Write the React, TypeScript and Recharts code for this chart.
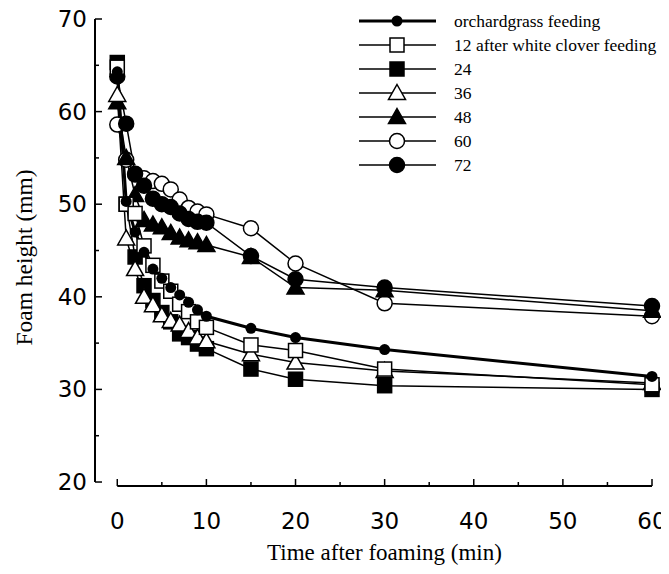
import { LineChart, Line, XAxis, YAxis, ReferenceLine, Legend } from 'recharts';

// minutes after foaming
const times = [0, 1, 2, 3, 4, 5, 6, 7, 8, 9, 10, 15, 20, 30, 60];

// foam height (mm) per group
const orchardgrass = [64.3, 50.3, 47.0, 44.8, 43.0, 42.0, 41.0, 40.2, 39.4, 38.6, 37.9, 36.6, 35.6, 34.3, 31.4];
const h12 = [64.8, 50.0, 49.0, 45.5, 43.4, 41.7, 40.6, 39.2, 38.4, 37.3, 36.7, 34.8, 34.2, 32.2, 30.5];
const h24 = [65.3, 50.0, 44.3, 41.2, 39.6, 38.3, 37.3, 36.0, 35.6, 34.9, 34.4, 32.2, 31.1, 30.4, 30.0];
const h36 = [61.8, 46.3, 43.0, 40.0, 39.1, 38.0, 37.4, 37.0, 36.3, 35.6, 35.2, 33.8, 32.9, 32.0, 30.7];
const h48 = [61.0, 55.0, 51.0, 48.3, 47.8, 47.5, 46.9, 46.4, 46.1, 45.9, 45.6, 44.3, 41.0, 40.7, 38.5];
const h60 = [58.6, 54.8, 53.2, 52.8, 52.5, 52.2, 51.6, 50.5, 49.6, 49.2, 48.9, 47.4, 43.6, 39.3, 37.9];
const h72 = [63.8, 58.7, 53.3, 52.0, 50.6, 50.0, 49.7, 49.0, 48.4, 48.1, 48.0, 44.4, 41.9, 41.0, 39.0];

const xTicks = [0, 5, 10, 15, 20, 25, 30, 35, 40, 45, 50, 55, 60];
const yTicks = [20, 25, 30, 35, 40, 45, 50, 55, 60, 65, 70];

const X_MIN = -2.5;
const Y_MIN = 19.57;

type Shape = 'dot' | 'circle' | 'square' | 'triangle';

interface SeriesDef {
  key: string;
  name: string;
  shape: Shape;
  filled: boolean;
  width: number;
}

const series: SeriesDef[] = [
  { key: 'h60', name: '60', shape: 'circle', filled: false, width: 1.5 },
  { key: 'h48', name: '48', shape: 'triangle', filled: true, width: 1.5 },
  { key: 'h72', name: '72', shape: 'circle', filled: true, width: 1.5 },
  { key: 'h24', name: '24', shape: 'square', filled: true, width: 1.5 },
  { key: 'h36', name: '36', shape: 'triangle', filled: false, width: 1.5 },
  { key: 'h12', name: '12 after white clover feeding', shape: 'square', filled: false, width: 1.5 },
  { key: 'orchard', name: 'orchardgrass feeding', shape: 'dot', filled: true, width: 3 },
];

const legendOrder = ['orchard', 'h12', 'h24', 'h36', 'h48', 'h60', 'h72'];

const data = times.map((t, i) => ({
  t,
  orchard: orchardgrass[i],
  h12: h12[i],
  h24: h24[i],
  h36: h36[i],
  h48: h48[i],
  h60: h60[i],
  h72: h72[i],
}));

function Marker({ cx, cy, shape, filled }: { cx: number; cy: number; shape: Shape; filled: boolean }) {
  const fill = filled ? '#000' : '#fff';
  if (shape === 'dot') return <circle cx={cx} cy={cy} r={5.5} fill="#000" />;
  if (shape === 'circle')
    return <circle cx={cx} cy={cy} r={7.5} fill={fill} stroke="#000" strokeWidth={1.5} />;
  if (shape === 'square')
    return <rect x={cx - 7} y={cy - 7} width={14} height={14} fill={fill} stroke="#000" strokeWidth={1.5} />;
  return (
    <polygon
      points={`${cx},${cy - 8.5} ${cx + 8.5},${cy + 6.5} ${cx - 8.5},${cy + 6.5}`}
      fill={fill}
      stroke="#000"
      strokeWidth={1.5}
    />
  );
}

const makeDot = (s: SeriesDef) => (props: any) => {
  const { cx, cy, index } = props;
  if (cx == null || cy == null) return <g key={`${s.key}-${index}`} />;
  return (
    <g key={`${s.key}-${index}`}>
      <Marker cx={cx} cy={cy} shape={s.shape} filled={s.filled} />
    </g>
  );
};

function XTick(props: { x?: number; y?: number; payload?: { value: number } }) {
  const { x = 0, y = 0, payload } = props;
  if (!payload) return null;
  const major = payload.value % 10 === 0;
  return (
    <g>
      <line x1={x} y1={y} x2={x} y2={y - (major ? 7 : 4)} stroke="#000" strokeWidth={1.5} />
      {major && (
        <text x={x} y={y + 43} textAnchor="middle" fontFamily="DejaVu Sans" fontSize={23} fill="#000">
          {payload.value}
        </text>
      )}
    </g>
  );
}

function YTick(props: { x?: number; y?: number; payload?: { value: number } }) {
  const { x = 0, y = 0, payload } = props;
  if (!payload) return null;
  const major = payload.value % 10 === 0;
  return (
    <g>
      <line x1={x} y1={y} x2={x + (major ? 7 : 4)} y2={y} stroke="#000" strokeWidth={1.5} />
      {major && (
        <text x={x - 8} y={y + 8} textAnchor="end" fontFamily="DejaVu Sans" fontSize={23} fill="#000">
          {payload.value}
        </text>
      )}
    </g>
  );
}

function LegendBox() {
  return (
    <svg width={312} height={180}>
      {legendOrder.map((k, i) => {
        const s = series.find((d) => d.key === k)!;
        const cy = 13 + i * 24;
        return (
          <g key={k}>
            <line x1={4} y1={cy} x2={81} y2={cy} stroke="#000" strokeWidth={s.width} />
            <Marker cx={42} cy={cy} shape={s.shape} filled={s.filled} />
            <text x={99} y={cy + 6} fontFamily="Liberation Serif" fontSize={17.5} fill="#000">
              {s.name}
            </text>
          </g>
        );
      })}
    </svg>
  );
}

export default function App() {
  return (
    <div style={{ position: 'relative', width: 669, height: 574, margin: -8 }}>
      <LineChart width={669} height={574} data={data} margin={{ top: 19, right: 17, bottom: 0, left: 0 }}>
        <XAxis
          dataKey="t"
          type="number"
          domain={[X_MIN, 60]}
          ticks={xTicks}
          interval={0}
          axisLine={false}
          tickLine={false}
          tickSize={0}
          tickMargin={0}
          height={88}
          tick={<XTick />}
          label={{
            content: (p: any) => {
              const vb = p.viewBox || {};
              return (
                <text
                  x={vb.x + vb.width / 2 + 11}
                  y={vb.y + 74}
                  textAnchor="middle"
                  fontFamily="Liberation Serif"
                  fontSize={23}
                  fill="#000"
                >
                  Time after foaming (min)
                </text>
              );
            },
          }}
        />
        <YAxis
          type="number"
          domain={[Y_MIN, 70]}
          ticks={yTicks}
          interval={0}
          axisLine={false}
          tickLine={false}
          tickSize={0}
          tickMargin={0}
          width={95}
          tick={<YTick />}
          label={{
            content: (p: any) => {
              const vb = p.viewBox || {};
              const cx = vb.x + 24;
              const cy = vb.y + vb.height / 2 + 5;
              return (
                <text
                  x={cx}
                  y={cy}
                  transform={`rotate(-90 ${cx} ${cy})`}
                  textAnchor="middle"
                  dominantBaseline="central"
                  fontFamily="Liberation Serif"
                  fontSize={23.5}
                  fill="#000"
                >
                  Foam height (mm)
                </text>
              );
            },
          }}
        />
        <ReferenceLine
          segment={[{ x: 0, y: Y_MIN }, { x: 60, y: Y_MIN }]}
          stroke="#000"
          strokeWidth={2}
        />
        <ReferenceLine
          segment={[{ x: X_MIN, y: 20 }, { x: X_MIN, y: 70 }]}
          stroke="#000"
          strokeWidth={2}
        />
        {series.map((s) => (
          <Line
            key={s.key}
            dataKey={s.key}
            name={s.name}
            stroke="#000"
            strokeWidth={s.width}
            type="linear"
            dot={makeDot(s)}
            activeDot={false}
            isAnimationActive={false}
          />
        ))}
        <Legend
          layout="vertical"
          align="center"
          verticalAlign="middle"
          wrapperStyle={{ position: 'absolute', left: 355, top: 8, width: 312, height: 180 }}
          content={() => <LegendBox />}
        />
      </LineChart>
    </div>
  );
}
